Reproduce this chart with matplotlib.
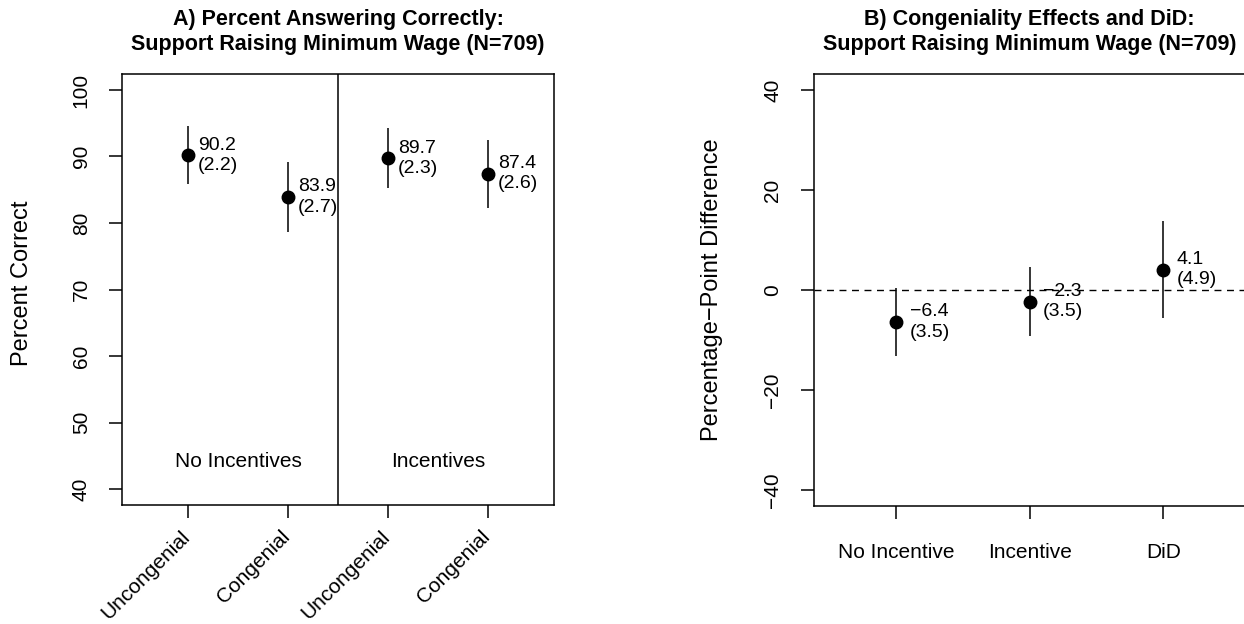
import matplotlib
matplotlib.use("Agg")
import matplotlib.pyplot as plt
import numpy as np
from matplotlib.transforms import blended_transform_factory

plt.rcParams['font.family'] = ['Liberation Sans', 'DejaVu Sans']

# ---- Data ----
a_labels = ["Uncongenial", "Congenial", "Uncongenial", "Congenial"]
a_means = [90.2, 83.9, 89.7, 87.4]
a_se = [2.2, 2.7, 2.3, 2.6]
a_groups = ["No Incentives", "Incentives"]

b_labels = ["No Incentive", "Incentive", "DiD"]
b_means = [-6.4, -2.3, 4.1]
b_se = [3.5, 3.5, 4.9]

title_a = "A) Percent Answering Correctly:\nSupport Raising Minimum Wage (N=709)"
title_b = "B) Congeniality Effects and DiD:\nSupport Raising Minimum Wage (N=709)"

W, H = 1244, 624
fig = plt.figure(figsize=(W / 100, H / 100), dpi=100)

def px_axes(l, t, r, b):
    return fig.add_axes([l / W, (H - b) / H, (r - l) / W, (b - t) / H])

TICK_FS = 15
LW = 1.1
ANN_FS = 14

# ---- Panel A ----
ax = px_axes(122, 74, 554, 505)
xa = np.arange(1, len(a_means) + 1)
am = np.array(a_means); ase = np.array(a_se)
ax.vlines(xa, am - 1.96 * ase, am + 1.96 * ase, color="black", lw=LW)
ax.plot(xa, am, "o", color="black", ms=9)
for x, m, s in zip(xa, a_means, a_se):
    ax.text(x + 0.1, m, f"{m:.1f}\n({s:.1f})", ha="left", va="center",
            fontsize=ANN_FS, linespacing=1.25)
ax.axvline(2.5, color="black", lw=LW)
ax.text(1.5, 44.1, a_groups[0], ha="center", va="center", fontsize=15)
ax.text(3.5, 44.1, a_groups[1], ha="center", va="center", fontsize=15)
ax.set_xlim(0.34, 4.66)
ax.set_ylim(37.6, 102.4)
ax.set_yticks([40, 50, 60, 70, 80, 90, 100])
ax.set_yticklabels(["40", "50", "60", "70", "80", "90", "100"],
                   rotation=90, va="center", fontsize=TICK_FS)
ax.set_xticks(xa)
ax.set_xticklabels([])
tr = blended_transform_factory(ax.transData, ax.transAxes)
for x, lab in zip(xa, a_labels):
    ax.text(x - 0.01, -0.066, lab, transform=tr, rotation=45, ha="right",
            va="center", rotation_mode="anchor", fontsize=TICK_FS)
ax.tick_params(length=9.5, width=LW, pad=13)
for sp in ax.spines.values():
    sp.set_linewidth(LW)
ax.set_title(title_a, fontsize=15.5, fontweight="bold", pad=17, linespacing=1.3)
fig.text(22 / W, 1 - 283 / H, "Percent Correct", rotation=90, ha="center",
         va="center", fontsize=17)

# ---- Panel B ----
bx = px_axes(813.5, 74, 1246, 506)
xb = np.arange(1, len(b_means) + 1)
bm = np.array(b_means); bse = np.array(b_se)
bx.axhline(0, color="black", lw=1.0, ls=(0, (5, 4)))
bx.vlines(xb, bm - 1.96 * bse, bm + 1.96 * bse, color="black", lw=LW)
bx.plot(xb, bm, "o", color="black", ms=9)
for x, m, s in zip(xb, b_means, b_se):
    lab = f"{m:.1f}".replace("-", "\u2212")
    bx.text(x + 0.1, m, f"{lab}\n({s:.1f})", ha="left", va="center",
            fontsize=ANN_FS, linespacing=1.25)
bx.set_xlim(0.38, 3.62)
bx.set_ylim(-43.2, 43.2)
bx.set_yticks([-40, -20, 0, 20, 40])
bx.set_yticklabels(["\u221240", "\u221220", "0", "20", "40"], rotation=90,
                   va="center", fontsize=TICK_FS)
bx.set_xticks(xb)
bx.set_xticklabels(b_labels, fontsize=TICK_FS)
bx.tick_params(axis="y", length=9.5, width=LW, pad=13)
bx.tick_params(axis="x", length=9.5, width=LW, pad=17)
for sp in bx.spines.values():
    sp.set_linewidth(LW)
bx.set_title(title_b, fontsize=15.5, fontweight="bold", pad=17, linespacing=1.3)
fig.text(712 / W, 1 - 290 / H, "Percentage\u2212Point Difference", rotation=90,
         ha="center", va="center", fontsize=17)

fig.savefig("out.png", dpi=100)
